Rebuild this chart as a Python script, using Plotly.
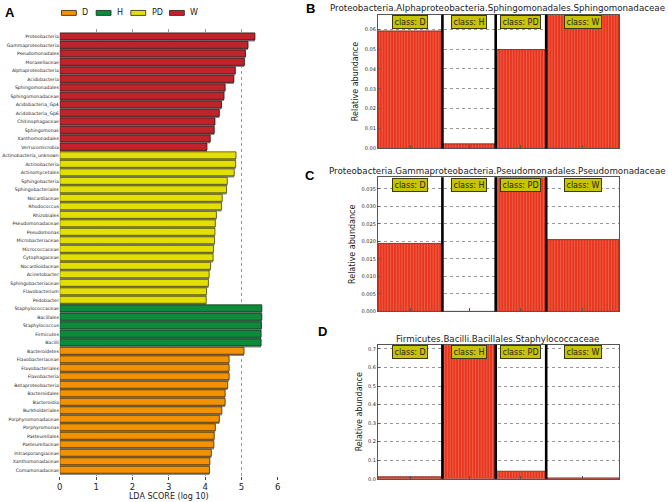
import plotly.graph_objects as go

# ---------------- Panel A data ----------------
w_names = ["Proteobacteria", "Gammaproteobacteria", "Pseudomonadales", "Moraxellaceae",
           "Alphaproteobacteria", "Acidobacteria", "Sphingomonadales", "Sphingomonadaceae",
           "Acidobacteria_Gp4", "Acidobacteria_Gp6", "Chitinophagaceae", "Sphingomonas",
           "Xanthomonadales", "Verrucomicrobia"]
w_vals = [5.37, 5.18, 5.11, 5.08, 4.83, 4.79, 4.55, 4.52, 4.45, 4.39, 4.27, 4.25, 4.14, 4.05]

pd_names = ["Actinobacteria_unknown", "Actinobacteria", "Actinomycetales", "Sphingobacteria",
            "Sphingobacteriales", "Nocardiaceae", "Rhodococcus", "Rhizobiales",
            "Pseudomonadaceae", "Pseudomonas", "Microbacteriaceae", "Micrococcaceae",
            "Cytophagaceae", "Nocardioidaceae", "Acinetobacter", "Sphingobacteriaceae",
            "Flavobacterium", "Pedobacter"]
pd_vals = [4.85, 4.84, 4.80, 4.61, 4.59, 4.47, 4.45, 4.31, 4.28, 4.27, 4.26, 4.23,
           4.22, 4.15, 4.11, 4.09, 4.04, 4.03]

h_names = ["Staphylococcaceae", "Bacillales", "Staphylococcus", "Firmicutes", "Bacilli"]
h_vals = [5.56, 5.56, 5.55, 5.54, 5.54]

d_names = ["Bacteroidetes", "Flavobacteriaceae", "Flavobacteriales", "Flavobacteria",
           "Betaproteobacteria", "Bacteroidales", "Bacteroidia", "Burkholderiales",
           "Porphyromonadaceae", "Porphyromonas", "Pasteurellales", "Pasteurellaceae",
           "Intrasporangiaceae", "Xanthomonadaceae", "Comamonadaceae"]
d_vals = [5.07, 4.66, 4.66, 4.66, 4.62, 4.55, 4.55, 4.46, 4.39, 4.28, 4.25, 4.24,
          4.17, 4.13, 4.12]

x_ticks_a = [0, 1, 2, 3, 4, 5, 6]
legend_order = ["D", "H", "PD", "W"]

# ---------------- Panels B-D data ----------------
classes = ["D", "H", "PD", "W"]
class_sizes = [23, 19, 18, 26]          # samples per class (relative widths)
b_title = "Proteobacteria.Alphaproteobacteria.Sphingomonadales.Sphingomonadaceae"
b_vals = [0.0591, 0.0023, 0.0497, 0.075]
c_title = "Proteobacteria.Gammaproteobacteria.Pseudomonadales.Pseudomonadaceae"
c_vals = [0.0194, 0.0, 0.042, 0.0205]
d_title = "Firmicutes.Bacilli.Bacillales.Staphylococcaceae"
d_vals2 = [0.011, 0.75, 0.041, 0.005]

FONT = "DejaVu Sans"
W, H = 668, 502
colors = {"W": "#C1232B", "PD": "#E3DF00", "H": "#0E8A3B", "D": "#F39200"}
edges = {"W": "#3A1010", "PD": "#4A4A10", "H": "#0C3A1C", "D": "#4A2E08"}

def px(x):
    return x / W

def py(y):
    return 1 - y / H

fig = go.Figure()

groups = [("W", w_names, w_vals), ("PD", pd_names, pd_vals),
          ("H", h_names, h_vals), ("D", d_names, d_vals)]
all_names, all_vals = [], []
for _, n, v in groups:
    all_names += n
    all_vals += v
ypos = list(range(len(all_names)))

# shadow
fig.add_trace(go.Bar(x=all_vals, y=ypos, orientation="h", width=0.82, offset=-0.26,
                     marker=dict(color="#8C8C8C", line=dict(width=0)),
                     showlegend=False, hoverinfo="skip", xaxis="x", yaxis="y"))
start = 0
for cls, n, v in groups:
    yy = ypos[start:start + len(n)]
    start += len(n)
    fig.add_trace(go.Bar(x=v, y=yy, orientation="h", width=0.82, offset=-0.46,
                         name=cls, showlegend=False,
                         marker=dict(color=colors[cls], line=dict(color=edges[cls], width=0.8)),
                         xaxis="x", yaxis="y"))

# manual legend (wide rectangular swatches as in the original)
leg_x = [59, 94, 129, 168]
for cls, lx in zip(legend_order, leg_x):
    fig.add_shape(type="rect", xref="paper", yref="paper",
                  x0=px(lx), x1=px(lx + 15), y0=py(15.5), y1=py(10.5),
                  fillcolor=colors[cls], line=dict(color="#222", width=0.8))
    fig.add_annotation(x=px(lx + 19), y=py(13), xref="paper", yref="paper", text=cls,
                       showarrow=False, xanchor="left", yanchor="middle",
                       font=dict(family=FONT, size=8, color="#222"))

# ---------------- B-D panels ----------------
centers, bounds = [], []
acc = 0
for s in class_sizes:
    centers.append(acc + s / 2)
    acc += s
    bounds.append(acc)
total = acc

panels = [
    ("x2", "y2", b_title, b_vals),
    ("x3", "y3", c_title, c_vals),
    ("x4", "y4", d_title, d_vals2),
]
for xa, ya, title, vals in panels:
    fig.add_trace(go.Bar(x=centers, y=vals, width=class_sizes, xaxis=xa, yaxis=ya,
                         showlegend=False,
                         marker=dict(color="#E8361E",
                                     line=dict(color="#7A1C10", width=0.8),
                                     pattern=dict(shape="|", size=2.83, solidity=0.18,
                                                  fgcolor="rgba(255,255,255,0.75)"))))
    for b in bounds[:-1]:
        fig.add_shape(type="line", x0=b, x1=b, y0=0, y1=1, xref=xa, yref=ya + " domain",
                      line=dict(color="black", width=2.6), layer="above")
    for c, cls in zip(centers, classes):
        fig.add_annotation(x=c, y=0.945, xref=xa, yref=ya + " domain",
                           text="class: " + cls, showarrow=False,
                           font=dict(family=FONT, size=8, color="#222"),
                           bgcolor="#C9C400", bordercolor="#3A3A10", borderwidth=1,
                           borderpad=1.5, yanchor="middle")

grid_common = dict(showgrid=True, gridcolor="#999", griddash="dot", gridwidth=0.8)

xB = [px(378.3), px(621.7)]
layout = dict(
    width=W, height=H, margin=dict(l=0, r=0, t=0, b=0),
    paper_bgcolor="white", plot_bgcolor="white", barmode="overlay",
    font=dict(family=FONT, color="#222"),
    showlegend=False,
    xaxis=dict(domain=[px(57.3), px(277.3)], range=[0, 6], tickvals=x_ticks_a,
               ticks="outside", ticklen=3, tickcolor="#444",
               tickfont=dict(size=8.5, family=FONT), zeroline=False,
               showline=False, anchor="y",
               title=dict(text="LDA SCORE (log 10)", font=dict(size=8, family=FONT), standoff=2),
               **grid_common),
    yaxis=dict(domain=[py(479), py(29)], range=[51.7, -0.94], tickvals=ypos,
               ticktext=all_names, tickfont=dict(size=4.6, family=FONT),
               showgrid=False, zeroline=False, showline=False, ticks="", anchor="x"),
)
ydoms = {"2": [py(149.3), py(14.7)], "3": [py(313.3), py(178.3)], "4": [py(481.7), py(346.7)]}
yranges = {"2": [0, 0.0673], "3": [0, 0.0383], "4": [0, 0.723]}
ytvals = {"2": [0, 0.01, 0.02, 0.03, 0.04, 0.05, 0.06],
          "3": [0, 0.005, 0.01, 0.015, 0.02, 0.025, 0.03, 0.035],
          "4": [0, 0.1, 0.2, 0.3, 0.4, 0.5, 0.6, 0.7]}
yfmt = {"2": ".2f", "3": ".3f", "4": ".1f"}
for k in ["2", "3", "4"]:
    layout["xaxis" + k] = dict(domain=xB, range=[0, total], anchor="y" + k,
                               tickvals=centers, ticktext=["", "", "", ""],
                               ticks="inside", ticklen=3, tickcolor="#555",
                               showgrid=False, zeroline=False, showline=True,
                               linecolor="#555", linewidth=1, mirror=True)
    layout["yaxis" + k] = dict(domain=ydoms[k], range=yranges[k], anchor="x" + k,
                               tickvals=ytvals[k], tickformat=yfmt[k],
                               tickfont=dict(size=5, family=FONT), ticks="inside",
                               ticklen=2, tickcolor="#555",
                               showline=True, linecolor="#555", linewidth=1, mirror=True,
                               zeroline=False,
                               title=dict(text="Relative abundance",
                                          font=dict(size=8, family=FONT), standoff=4),
                               **grid_common)
fig.update_layout(**layout)

# panel titles & letters
for title, yy in [(b_title, 8), (c_title, 172), (d_title, 341)]:
    fig.add_annotation(x=px(499), y=py(yy), xref="paper", yref="paper", text=title,
                       showarrow=False, font=dict(family=FONT, size=8.7, color="#222"),
                       xanchor="center", yanchor="middle")
for letter, xx, yy in [("A", 7, 13), ("B", 310, 9), ("C", 310, 177), ("D", 322, 333)]:
    fig.add_annotation(x=px(xx), y=py(yy), xref="paper", yref="paper",
                       text="<b>" + letter + "</b>", showarrow=False,
                       font=dict(family="Liberation Sans", size=13, color="black"),
                       xanchor="center", yanchor="middle")

fig.write_html("out.html", config={"displayModeBar": False},
               post_script="document.body.style.margin='0';document.body.style.overflow='hidden';")
